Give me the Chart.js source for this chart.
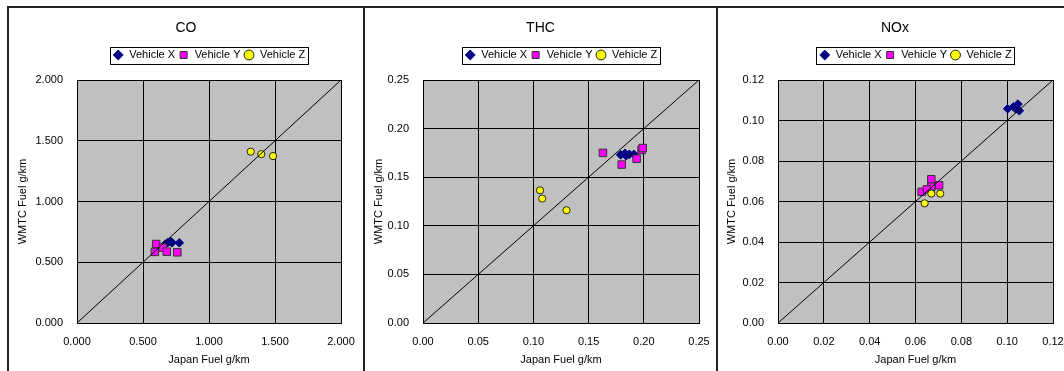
<!DOCTYPE html>
<html>
<head>
<meta charset="utf-8">
<script src="https://cdn.jsdelivr.net/npm/chart.js@4/dist/chart.umd.min.js"></script>
<style>
  html, body { margin: 0; padding: 0; background: #fff; width: 1064px; height: 371px; overflow: hidden; }
  .panel { position: absolute; top: 6px; height: 365px; box-sizing: border-box;
           border-left: 2px solid #222; border-top: 2px solid #222; overflow: hidden; }
  canvas { display: block; }
</style>
</head>
<body>
<div class="panel" style="left:7px;width:356px"><canvas id="coChart" width="354" height="363"></canvas></div>
<div class="panel" style="left:363px;width:353px"><canvas id="thcChart" width="351" height="363"></canvas></div>
<div class="panel" style="left:716px;width:356px"><canvas id="noxChart" width="354" height="363"></canvas></div>

<script>
// Japan fuel (x) vs WMTC fuel (y), g/km
const seriesNames = ['Vehicle X', 'Vehicle Y', 'Vehicle Z'];

const coX = [[0.67, 0.65], [0.69, 0.665], [0.71, 0.67], [0.72, 0.66], [0.775, 0.66]];
const coY = [[0.60, 0.65], [0.59, 0.585], [0.65, 0.62], [0.68, 0.587], [0.76, 0.582]];
const coZ = [[1.316, 1.41], [1.396, 1.39], [1.485, 1.374]];
const coTicks = [0, 0.5, 1, 1.5, 2];
const coTickLabels = ['0.000', '0.500', '1.000', '1.500', '2.000'];

const thcX = [[0.179, 0.173], [0.183, 0.1746], [0.184, 0.172], [0.187, 0.1735], [0.191, 0.1735]];
const thcY = [[0.163, 0.175], [0.180, 0.163], [0.1935, 0.169], [0.198, 0.178], [0.199, 0.180]];
const thcZ = [[0.106, 0.1365], [0.108, 0.128], [0.130, 0.116]];
const thcTicks = [0, 0.05, 0.1, 0.15, 0.2, 0.25];
const thcTickLabels = ['0.00', '0.05', '0.10', '0.15', '0.20', '0.25'];

const noxX = [[0.1002, 0.1058], [0.1028, 0.1068], [0.1047, 0.1081], [0.1053, 0.1048], [0.1035, 0.106]];
const noxY = [[0.0627, 0.0648], [0.0669, 0.071], [0.0703, 0.068], [0.0669, 0.0673], [0.065, 0.066]];
const noxZ = [[0.064, 0.0591], [0.0669, 0.0639], [0.0708, 0.0639]];
const noxTicks = [0, 0.02, 0.04, 0.06, 0.08, 0.1, 0.12];
const noxTickLabels = ['0.00', '0.02', '0.04', '0.06', '0.08', '0.10', '0.12'];

const FONT = "'Liberation Sans', Arial, sans-serif";
Chart.defaults.font.family = FONT;
Chart.defaults.color = '#000';
Chart.defaults.animation = false;

const markerStyles = [
  { pointStyle: 'rectRot', pointRadius: 4.3, backgroundColor: '#000080', borderColor: '#000080' },
  { pointStyle: 'rect', pointRadius: 5.3, backgroundColor: '#ff00ff', borderColor: '#333' },
  { pointStyle: 'circle', pointRadius: 3.6, backgroundColor: '#ffff00', borderColor: '#222' },
];

const pts = list => list.map(([x, y]) => ({ x, y }));

// grey plot area
const plotBg = {
  id: 'plotBg',
  beforeDraw(chart) {
    const a = chart.chartArea;
    const ctx = chart.ctx;
    ctx.save();
    ctx.fillStyle = '#c0c0c0';
    ctx.fillRect(a.left, a.top, a.right - a.left, a.bottom - a.top);
    ctx.restore();
  }
};

// thin frame round the legend items
const legendBox = {
  id: 'legendBox',
  afterDraw(chart) {
    const hb = chart.legend && chart.legend.legendHitBoxes;
    if (!hb || !hb.length) return;
    const l = Math.min(...hb.map(b => b.left)) - 3;
    const r = Math.max(...hb.map(b => b.left + b.width)) + 3;
    const t = Math.min(...hb.map(b => b.top)) - 3;
    const btm = Math.max(...hb.map(b => b.top + b.height)) + 3;
    const ctx = chart.ctx;
    ctx.save();
    ctx.strokeStyle = '#000';
    ctx.lineWidth = 1;
    ctx.strokeRect(Math.round(l) + 0.5, Math.round(t) + 0.5, Math.round(r - l), Math.round(btm - t));
    ctx.restore();
  }
};

function makeChart(id, title, series, ticks, tickLabels, yWidth, rightPad) {
  const max = ticks[ticks.length - 1];
  const datasets = series.map((s, i) => Object.assign({
    label: seriesNames[i],
    data: pts(s),
    borderWidth: 1,
    order: 3 - i,
  }, markerStyles[i]));
  // 1:1 line
  datasets.push({
    label: 'diag',
    data: [{ x: 0, y: 0 }, { x: max, y: max }],
    showLine: true,
    pointRadius: 0,
    borderColor: '#000',
    borderWidth: 1,
    order: 0,
  });

  const axis = (isX) => ({
    type: 'linear',
    min: 0,
    max: max,
    afterBuildTicks: s => { s.ticks = ticks.map(v => ({ value: v })); },
    afterFit: s => {
      if (isX) {
        s.height = 48;
        s.paddingLeft = 0;
        s.paddingRight = rightPad;
      } else {
        s.width = yWidth;
        s.paddingTop = 0;
        s.paddingBottom = 0;
      }
    },
    grid: { color: '#000', lineWidth: 1, drawTicks: false },
    border: { display: true, color: '#000', width: 1 },
    ticks: {
      padding: isX ? 12 : 14,
      font: { size: 11 },
      color: '#000',
      maxRotation: 0,
      callback: (v, i) => tickLabels[i],
    },
    title: {
      display: true,
      text: isX ? 'Japan Fuel g/km' : 'WMTC Fuel g/km',
      font: { size: 11 },
      color: '#000',
      padding: isX ? { top: 0, bottom: 4 } : { top: 7, bottom: 0 },
    },
  });

  return new Chart(document.getElementById(id), {
    type: 'scatter',
    data: { datasets },
    options: {
      responsive: false,
      layout: { padding: 0 },
      plugins: {
        title: {
          display: true, text: title,
          font: { size: 14, weight: 'normal' }, color: '#000',
          padding: { top: 12, bottom: 9.7 },
        },
        subtitle: {
          // spacer between legend and plot
          display: true, text: '', weight: 500,
          font: { size: 1 }, padding: { top: 0, bottom: 8.3 },
        },
        legend: {
          fullSize: false,
          labels: {
            usePointStyle: true,
            boxHeight: 7,
            padding: 3,
            font: { size: 11 },
            color: '#000',
            filter: item => item.text !== 'diag',
            sort: (a, b) => a.datasetIndex - b.datasetIndex,
          },
        },
        tooltip: { enabled: false },
      },
      scales: { x: axis(true), y: axis(false) },
    },
    plugins: [plotBg, legendBox],
  });
}

makeChart('coChart', 'CO', [coX, coY, coZ], coTicks, coTickLabels, 68, 22);
makeChart('thcChart', 'THC', [thcX, thcY, thcZ], thcTicks, thcTickLabels, 58, 17);
makeChart('noxChart', 'NOx', [noxX, noxY, noxZ], noxTicks, noxTickLabels, 60, 19);
</script>
</body>
</html>
